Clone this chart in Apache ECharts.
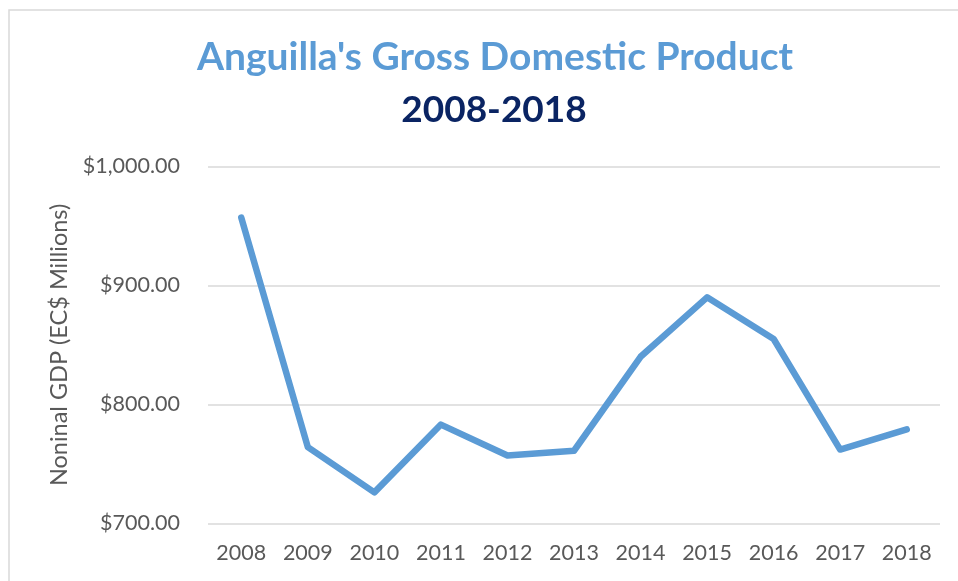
<!DOCTYPE html>
<html>
<head>
<meta charset="utf-8">
<script src="https://cdn.jsdelivr.net/npm/echarts@6/dist/echarts.min.js"></script>
<style>html,body{margin:0;padding:0;background:#fff}#c{width:958px;height:581px}</style>
</head>
<body>
<div id="c"></div>
<script>
const years = ['2008','2009','2010','2011','2012','2013','2014','2015','2016','2017','2018'];
const gdp = [957, 764, 726, 783, 757, 761, 840, 890, 855, 762, 779];
const yTicks = {min: 700, max: 1000, interval: 100};

const FONT = 'Lato, "Open Sans", sans-serif';
const chart = echarts.init(document.getElementById('c'), null, {renderer: 'canvas'});
chart.setOption({
  animation: false,
  backgroundColor: '#fff',
  title: [
    {text: "Anguilla's Gross Domestic Product", left: 490, top: 33, textAlign: 'center',
     textStyle: {color: '#5B9BD5', fontSize: 39, fontWeight: 'bold', fontFamily: FONT}},
    {text: '2008-2018', left: 489, top: 87, textAlign: 'center',
     textStyle: {color: '#0A2463', fontSize: 37, fontWeight: 'bold', fontFamily: FONT}}
  ],
  graphic: [{type: 'rect', shape: {x: 9, y: 10, width: 1000, height: 700},
    style: {fill: 'none', stroke: '#d9d9d9', lineWidth: 1.5}, z: -1}],
  grid: {left: 208, right: 18, top: 166.5, bottom: 57.7},
  xAxis: {
    type: 'category', data: years, boundaryGap: true,
    axisLine: {show: false}, axisTick: {show: false},
    axisLabel: {color: '#595959', fontSize: 21.5, fontFamily: FONT, margin: 19}
  },
  yAxis: {
    type: 'value', min: yTicks.min, max: yTicks.max, interval: yTicks.interval,
    name: 'Noninal GDP (EC$ Millions)', nameLocation: 'middle', nameRotate: 90, nameGap: 136,
    nameTextStyle: {color: '#595959', fontSize: 23.5, fontFamily: FONT},
    axisLine: {show: false}, axisTick: {show: false},
    axisLabel: {color: '#595959', fontSize: 21.5, fontFamily: FONT, margin: 28,
      formatter: v => '$' + v.toLocaleString('en-US', {minimumFractionDigits: 2, maximumFractionDigits: 2})},
    splitLine: {lineStyle: {color: '#d9d9d9', width: 1.5}}
  },
  series: [{
    type: 'line', data: gdp, symbol: 'none',
    lineStyle: {color: '#5B9BD5', width: 6.5, cap: 'round', join: 'round'}
  }]
});
</script>
</body>
</html>
